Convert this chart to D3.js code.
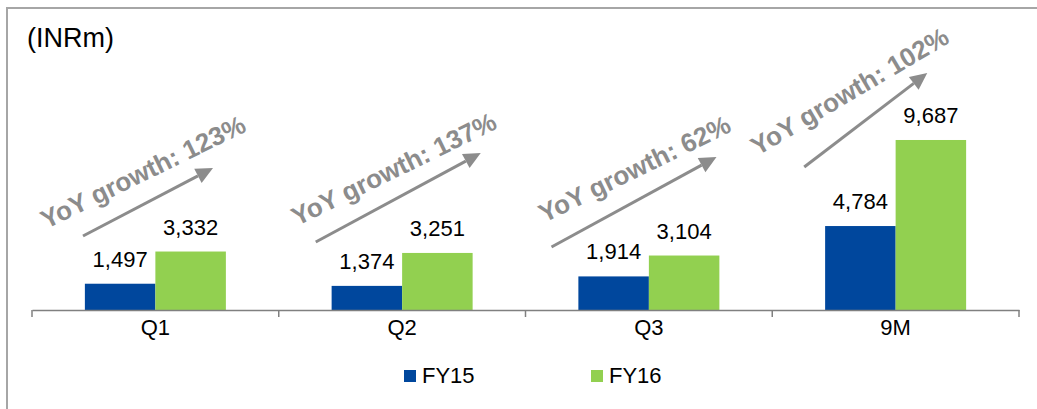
<!DOCTYPE html>
<html>
<head>
<meta charset="utf-8">
<script src="https://cdn.jsdelivr.net/npm/d3@7.9.0/dist/d3.min.js"></script>
<style>
  body { margin: 0; background: #fff; }
  svg { display: block; font-family: "Liberation Sans", Arial, sans-serif; }
</style>
</head>
<body>
<svg id="chart" width="1037" height="409"></svg>
<script>
// Data:
const categories = ['Q1', 'Q2', 'Q3', '9M'];
const seriesNames = ['FY15', 'FY16'];
const fy15 = [1497, 1374, 1914, 4784];
const fy16 = [3332, 3251, 3104, 9687];
const growthLabels = ['YoY growth: 123%', 'YoY growth: 137%', 'YoY growth: 62%', 'YoY growth: 102%'];

// Annotation placement (arrows + rotated labels), relative to each category band start
const arrowLayout = [
  { x1: 51, y1: 236, x2: 181, y2: 168, tx: 115, ty: 180, rot: -26 },
  { x1: 37, y1: 242, x2: 202, y2: 153, tx: 119, ty: 177, rot: -26 },
  { x1: 26, y1: 247, x2: 191, y2: 157, tx: 113, ty: 177, rot: -26 },
  { x1: 32, y1: 167, x2: 155, y2: 73,  tx: 82,  ty: 99,  rot: -30.5 }
];

const colors = { FY15: '#00479d', FY16: '#92d050' };
const grey = '#8c8c8c';

const svg = d3.select('#chart');

// Outer frame (only top and left visible in the picture)
svg.append('rect')
  .attr('x', 7).attr('y', 8)
  .attr('width', 1060).attr('height', 420)
  .attr('fill', 'none')
  .attr('stroke', '#a6a6a6')
  .attr('stroke-width', 2);

const baseY = 310;
const x = d3.scaleBand().domain(categories).range([32, 1019]);
const x1 = d3.scaleBand().domain(seriesNames).range([0, x.bandwidth()]).paddingOuter(0.75).paddingInner(0);
const y = d3.scaleLinear().domain([0, 10000]).range([baseY, baseY - 175.5]);

const rows = categories.map((c, i) => ({ cat: c, FY15: fy15[i], FY16: fy16[i] }));

// Bars
const groups = svg.append('g').selectAll('g')
  .data(rows).join('g')
  .attr('transform', d => `translate(${x(d.cat)},0)`);

groups.selectAll('rect')
  .data(d => seriesNames.map(s => ({ s, v: d[s] })))
  .join('rect')
  .attr('x', d => x1(d.s))
  .attr('width', x1.bandwidth())
  .attr('y', d => y(d.v))
  .attr('height', d => baseY - y(d.v))
  .attr('fill', d => colors[d.s]);

// Value labels
groups.selectAll('text.val')
  .data(d => seriesNames.map(s => ({ s, v: d[s] })))
  .join('text')
  .attr('class', 'val')
  .attr('x', d => x1(d.s) + x1.bandwidth() / 2)
  .attr('y', d => y(d.v) - 17)
  .attr('text-anchor', 'middle')
  .attr('font-size', 22)
  .attr('fill', '#000')
  .text(d => d3.format(',')(d.v));

// X axis
const axis = d3.axisBottom(x).tickSize(0).tickFormat(d => d);
const axisG = svg.append('g').attr('transform', `translate(0,${baseY})`).call(axis);
axisG.select('.domain').attr('stroke', '#808080').attr('stroke-width', 1.5);
axisG.selectAll('text').attr('font-size', 22).attr('fill', '#000')
  .attr('font-family', '"Liberation Sans", Arial, sans-serif')
  .attr('y', 3).attr('dy', '1em');
// Category separators
const edges = categories.map(c => x(c)).concat([x.range()[1]]);
svg.append('g').selectAll('line')
  .data(edges).join('line')
  .attr('x1', d => d).attr('x2', d => d)
  .attr('y1', baseY).attr('y2', baseY + 7)
  .attr('stroke', '#808080').attr('stroke-width', 1.5);

// Growth arrows + labels
categories.forEach((c, i) => {
  const a = arrowLayout[i];
  const bx = x(c);
  const sx = bx + a.x1, sy = a.y1, ex = bx + a.x2, ey = a.y2;
  const ang = Math.atan2(ey - sy, ex - sx);
  const headLen = 17, headW = 8;
  const hx = ex - headLen * Math.cos(ang), hy = ey - headLen * Math.sin(ang);
  svg.append('line')
    .attr('x1', sx).attr('y1', sy).attr('x2', hx).attr('y2', hy)
    .attr('stroke', grey).attr('stroke-width', 3);
  const px = -Math.sin(ang) * headW, py = Math.cos(ang) * headW;
  svg.append('path')
    .attr('d', `M${ex},${ey}L${hx + px},${hy + py}L${hx - px},${hy - py}Z`)
    .attr('fill', grey);
  svg.append('text')
    .attr('transform', `translate(${bx + a.tx},${a.ty}) rotate(${a.rot})`)
    .attr('text-anchor', 'middle')
    .attr('font-size', 26)
    .attr('font-weight', 'bold')
    .attr('fill', grey)
    .text(growthLabels[i]);
});

// Unit label
svg.append('text')
  .attr('x', 27).attr('y', 47)
  .attr('font-size', 27)
  .attr('fill', '#000')
  .text('(INRm)');

// Legend
const legendPos = [404, 591];
const legend = svg.append('g').selectAll('g')
  .data(seriesNames).join('g')
  .attr('transform', (d, i) => `translate(${legendPos[i]},370)`);
legend.append('rect').attr('width', 12).attr('height', 12).attr('fill', d => colors[d]);
legend.append('text').attr('x', 18).attr('y', 13)
  .attr('font-size', 22).attr('fill', '#000').text(d => d);
</script>
</body>
</html>
